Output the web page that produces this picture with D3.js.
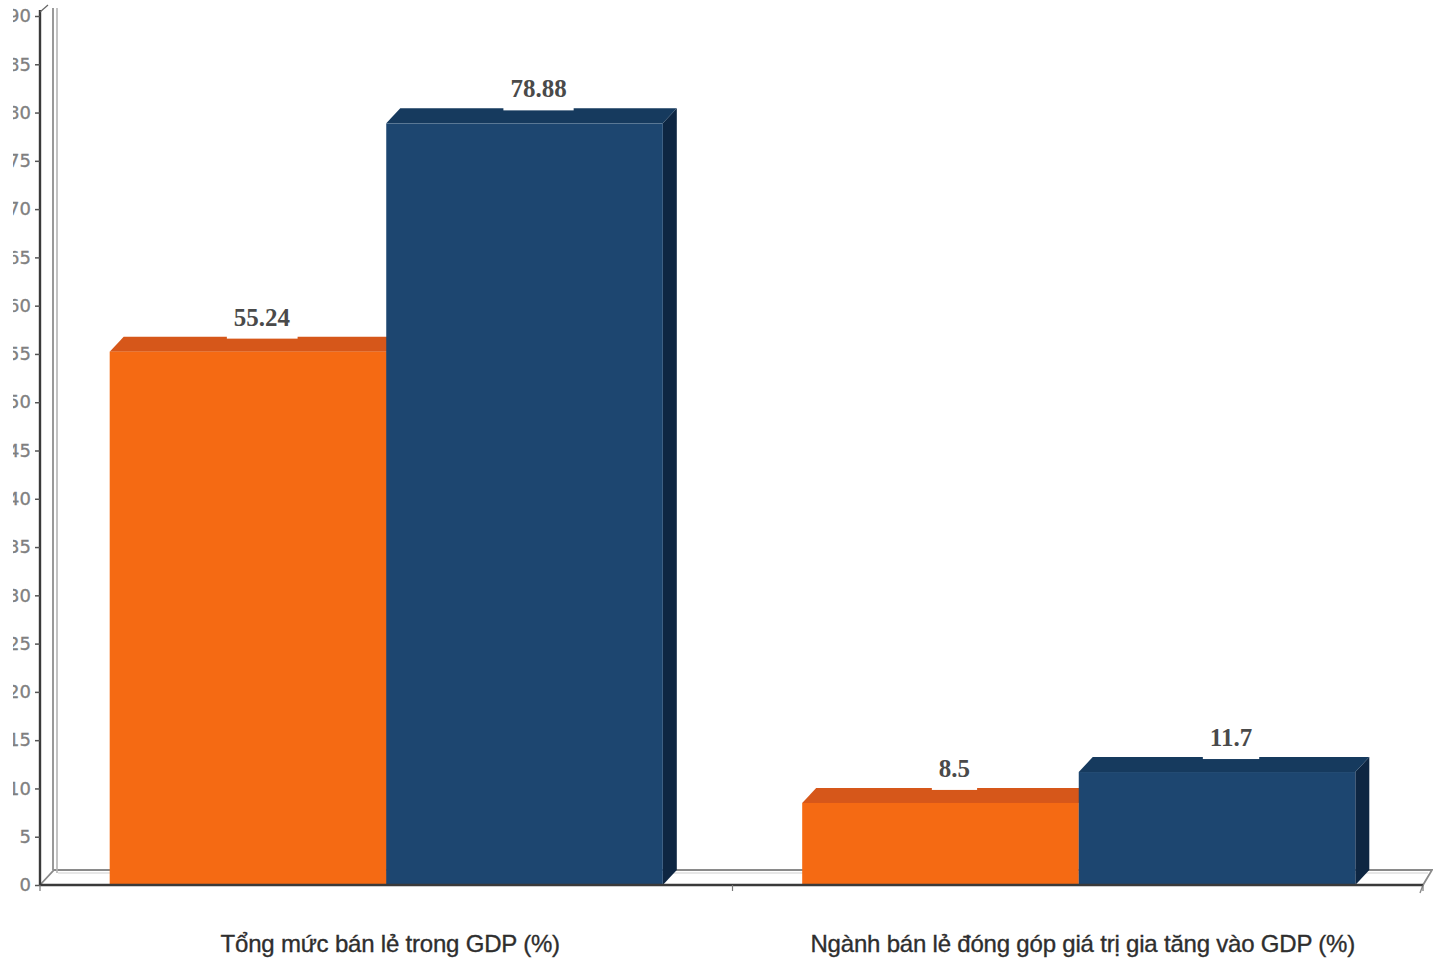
<!DOCTYPE html>
<html>
<head>
<meta charset="utf-8">
<script src="https://cdn.jsdelivr.net/npm/d3@7"></script>
<style>
  html, body { margin: 0; padding: 0; background: #fff; }
  svg { display: block; }
</style>
</head>
<body>
<svg id="chart" width="1433" height="966"></svg>
<script>
// Chart data
const categories = [
  "Tổng mức bán lẻ trong GDP (%)",
  "Ngành bán lẻ đóng góp giá trị gia tăng vào GDP (%)"
];
const seriesKeys = ["s1", "s2"];
const seriesValues = {
  s1: [55.24, 8.5],
  s2: [78.88, 11.7]
};
const valueLabels = {
  s1: ["55.24", "8.5"],
  s2: ["78.88", "11.7"]
};
const yTicks = [0, 5, 10, 15, 20, 25, 30, 35, 40, 45, 50, 55, 60, 65, 70, 75, 80, 85, 90];

// Colours: front, top, side faces per series
const palette = {
  s1: { front: "#F56A13", top: "#D6571A", side: "#B9470F" },
  s2: { front: "#1D4670", top: "#163A5E", side: "#0E2642" }
};

const svg = d3.select("#chart");
const depthX = 14, depthY = -15;
const floorY = 885;

const y = d3.scaleLinear().domain([0, 90]).range([floorY, 16]);
const x0 = d3.scaleBand().domain(categories).range([40, 1425]).paddingInner(0).paddingOuter(0);
const x1 = d3.scaleBand().domain(seriesKeys).range([0, x0.bandwidth()]).paddingInner(0).paddingOuter(0.252);

// Back wall and floor
const wall = svg.append("g");
wall.append("path")
  .attr("d", `M40,${floorY} L${40 + depthX},${floorY + depthY} L1432,${floorY + depthY} L1423,${floorY} Z`)
  .attr("fill", "#fff").attr("stroke", "#8a8a8a").attr("stroke-width", 1.8);
wall.append("line").attr("x1", 58).attr("x2", 1428).attr("y1", floorY + depthY + 3).attr("y2", floorY + depthY + 3)
  .attr("stroke", "#cfcfcf").attr("stroke-width", 1.2);
wall.append("line").attr("x1", 53).attr("x2", 53).attr("y1", 8).attr("y2", floorY + depthY)
  .attr("stroke", "#8e8e8e").attr("stroke-width", 1.8);
wall.append("line").attr("x1", 57).attr("x2", 57).attr("y1", 8).attr("y2", floorY + depthY + 3)
  .attr("stroke", "#b4b4b4").attr("stroke-width", 1.6);
// floor right end tick
wall.append("line").attr("x1", 1423).attr("x2", 1420).attr("y1", floorY).attr("y2", floorY + 8)
  .attr("stroke", "#8a8a8a").attr("stroke-width", 1.4);

// Bars (3D boxes)
const bars = [];
categories.forEach((c, i) => {
  seriesKeys.forEach(k => {
    bars.push({ cat: c, key: k, value: seriesValues[k][i], label: valueLabels[k][i] });
  });
});

const barG = svg.append("g");
bars.forEach(b => {
  const xl = x0(b.cat) + x1(b.key);
  const w = x1.bandwidth();
  const yt = y(b.value);
  const col = palette[b.key];
  const g = barG.append("g");
  // side face
  g.append("path")
    .attr("d", `M${xl + w},${yt} L${xl + w + depthX},${yt + depthY} L${xl + w + depthX},${floorY + depthY} L${xl + w},${floorY} Z`)
    .attr("fill", col.side);
  // top face
  g.append("path")
    .attr("d", `M${xl},${yt} L${xl + depthX},${yt + depthY} L${xl + w + depthX},${yt + depthY} L${xl + w},${yt} Z`)
    .attr("fill", col.top);
  // front face
  g.append("rect")
    .attr("x", xl).attr("y", yt).attr("width", w).attr("height", floorY - yt)
    .attr("fill", col.front);
});

// Value labels with white backing
const labelG = svg.append("g");
bars.forEach(b => {
  const cx = x0(b.cat) + x1(b.key) + x1.bandwidth() / 2 + depthX;
  const backEdge = y(b.value) + depthY;
  const baseline = backEdge - 11;
  const t = labelG.append("text")
    .attr("x", cx).attr("y", baseline)
    .attr("text-anchor", "middle")
    .attr("font-family", "'Liberation Serif', 'Times New Roman', serif")
    .attr("font-weight", "bold")
    .attr("font-size", 25)
    .attr("fill", "#4a4a4a")
    .text(b.label);
  const bb = t.node().getBBox();
  labelG.insert("rect", () => t.node())
    .attr("x", bb.x - 7).attr("y", bb.y - 1)
    .attr("width", bb.width + 14).attr("height", backEdge + 2 - (bb.y - 1))
    .attr("fill", "#fff");
});

// Front floor edge
svg.append("line").attr("x1", 40).attr("x2", 1423).attr("y1", floorY).attr("y2", floorY)
  .attr("stroke", "#3a3a3a").attr("stroke-width", 2.4);

// Y axis, tick labels clipped at the left margin
const clip = svg.append("defs").append("clipPath").attr("id", "axisClip");
clip.append("rect").attr("x", 13).attr("y", 0).attr("width", 1420).attr("height", 966);

const yAxis = svg.append("g")
  .attr("clip-path", "url(#axisClip)")
  .append("g")
  .attr("transform", "translate(40,0)")
  .call(d3.axisLeft(y).tickValues(yTicks).tickSize(5).tickPadding(4).tickFormat(d3.format("d")));
yAxis.select(".domain").attr("stroke", "#3a3a3a").attr("stroke-width", 2.4)
  .attr("d", `M0,${floorY}V10`);
yAxis.selectAll(".tick line").attr("stroke", "#555").attr("stroke-width", 1.5);
yAxis.selectAll(".tick text")
  .attr("font-family", "'DejaVu Sans', sans-serif")
  .attr("font-size", 18)
  .attr("fill", "#808080")
  .attr("stroke", "#808080")
  .attr("stroke-width", 0.3);

// top corner of axis
svg.append("line").attr("x1", 40).attr("y1", 12).attr("x2", 48).attr("y2", 5)
  .attr("stroke", "#666").attr("stroke-width", 1.2);

// Category ticks
const catTicks = [40, x0(categories[1]), 1423];
svg.append("g").selectAll("line").data(catTicks).join("line")
  .attr("x1", d => d).attr("x2", d => d)
  .attr("y1", floorY).attr("y2", floorY + 6)
  .attr("stroke", "#777").attr("stroke-width", 1.2);

// Category labels
svg.append("g").selectAll("text").data(categories).join("text")
  .attr("x", d => x0(d) + x0.bandwidth() / 2 + 4)
  .attr("y", 952)
  .attr("text-anchor", "middle")
  .attr("font-family", "'Liberation Sans', Arial, sans-serif")
  .attr("font-size", 24)
  .attr("fill", "#2e2e2e")
  .attr("stroke", "#2e2e2e")
  .attr("stroke-width", 0.35)
  .attr("letter-spacing", -0.2)
  .text(d => d);
</script>
</body>
</html>
